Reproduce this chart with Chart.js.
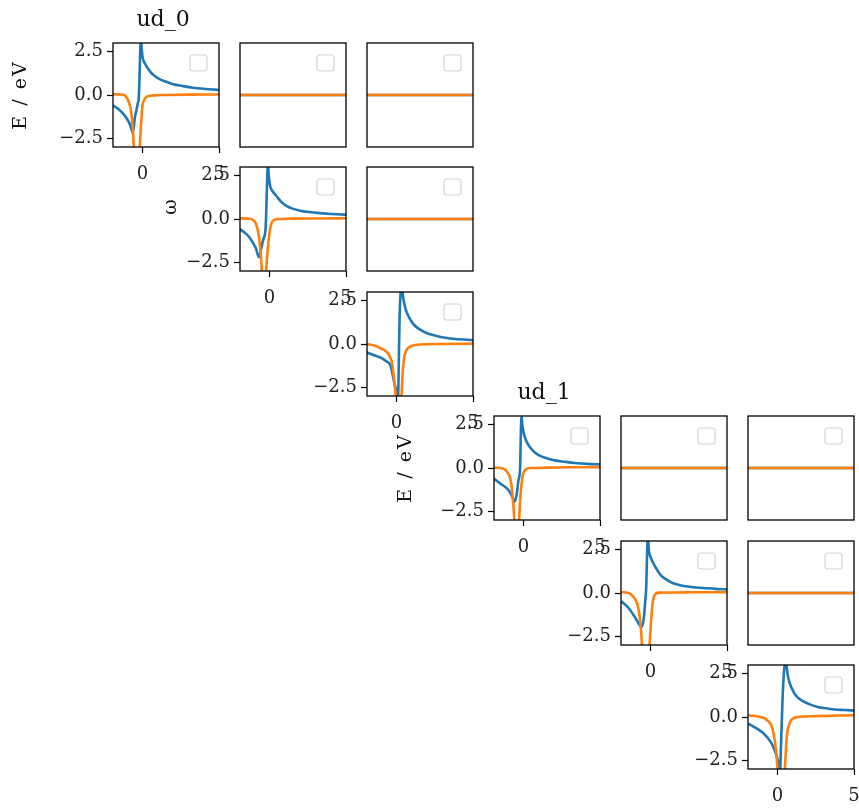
<!DOCTYPE html>
<html>
<head>
<meta charset="utf-8">
<script src="https://cdn.jsdelivr.net/npm/chart.js@4.4.1/dist/chart.umd.min.js"></script>
<style>
    html, body { margin: 0; padding: 0; background: #fff; }
    #fig { position: relative; width: 859px; height: 808px; overflow: hidden; }
    #fig canvas { position: absolute; }
</style>
</head>
<body>
<div id="fig"></div>
<script>
// ud_0, diagonal panels (row, col) = (0,0), (1,1), (2,2)
const ud0_00_blueX = [-1.93, -1.6, -1.3, -1.0, -0.8, -0.63, -0.5, -0.4, -0.3, -0.26, -0.2, -0.15, -0.11, -0.05, 0.0, 0.17, 0.5, 0.8, 1.15, 1.5, 2.0, 2.6, 3.3, 4.1, 5.0];
const ud0_00_blueY = [-0.6, -0.8, -1.05, -1.4, -1.75, -2.18, -1.3, -0.9, -0.45, -0.3, 0.9, 2.6, 3.2, 2.6, 2.2, 1.8, 1.35, 1.1, 0.9, 0.78, 0.62, 0.52, 0.42, 0.35, 0.29];
const ud0_00_orangeX = [-1.93, -1.5, -1.2, -1.0, -0.9, -0.78, -0.65, -0.57, -0.45, -0.3, -0.18, -0.1, 0.0, 0.1, 0.27, 0.5, 0.7, 1.5, 3.0, 5.0];
const ud0_00_orangeY = [0.04, 0.03, 0.0, -0.2, -0.4, -0.78, -1.74, -3.0, -5, -5, -3.0, -1.74, -0.6, -0.3, -0.1, -0.05, -0.02, 0.0, 0.02, 0.03];

const ud0_11_blueX = [-1.98, -1.6, -1.32, -1.1, -0.88, -0.7, -0.55, -0.4, -0.26, -0.2, -0.15, -0.11, -0.05, 0.04, 0.2, 0.44, 0.75, 1.1, 1.5, 2.0, 2.6, 3.3, 4.1, 5.0];
const ud0_11_blueY = [-0.57, -0.8, -1.05, -1.35, -1.72, -2.2, -1.72, -1.15, -0.57, 0.8, 2.5, 3.2, 2.5, 1.9, 1.6, 1.34, 1.0, 0.76, 0.6, 0.48, 0.4, 0.34, 0.29, 0.25];
const ud0_11_orangeX = [-1.98, -1.2, -1.0, -0.88, -0.7, -0.55, -0.5, -0.4, -0.3, -0.22, -0.11, 0.04, 0.15, 0.33, 0.6, 1.5, 3.0, 5.0];
const ud0_11_orangeY = [0.04, 0.0, -0.12, -0.29, -0.95, -2.3, -3.0, -5, -5, -3.0, -1.7, -0.57, -0.2, -0.04, 0.0, 0.02, 0.03, 0.04];

const ud0_22_blueX = [-1.96, -1.38, -1.0, -0.72, -0.39, -0.17, 0.04, 0.1, 0.15, 0.2, 0.27, 0.33, 0.45, 0.6, 0.81, 1.1, 1.46, 2.0, 2.55, 3.2, 3.86, 5.0];
const ud0_22_blueY = [-0.48, -0.68, -0.8, -0.97, -1.26, -2.13, -2.9, -3.2, -1.0, 1.5, 3.0, 3.3, 2.6, 2.0, 1.55, 1.15, 0.87, 0.62, 0.48, 0.36, 0.29, 0.23];
const ud0_22_orangeX = [-1.96, -1.38, -0.94, -0.8, -0.61, -0.45, -0.28, -0.11, -0.05, 0.1, 0.25, 0.33, 0.41, 0.5, 0.63, 0.8, 1.03, 1.5, 3.0, 5.0];
const ud0_22_orangeY = [0.0, -0.1, -0.29, -0.35, -0.48, -0.7, -1.16, -2.5, -3.0, -5, -5, -3.0, -1.55, -0.8, -0.39, -0.2, -0.1, -0.03, 0.0, 0.02];

// ud_1, diagonal panels (row, col) = (3,3), (4,4), (5,5)
const ud1_33_blueX = [-2.0, -1.51, -1.07, -0.85, -0.73, -0.58, -0.44, -0.33, -0.22, -0.18, -0.13, -0.08, 0.0, 0.16, 0.49, 0.8, 1.16, 1.6, 2.04, 2.7, 3.38, 4.2, 5.0];
const ud1_33_blueY = [-0.56, -0.9, -1.19, -1.45, -1.67, -1.96, -1.48, -0.71, 0.06, 1.79, 3.0, 2.5, 2.08, 1.6, 1.12, 0.85, 0.67, 0.54, 0.44, 0.36, 0.29, 0.24, 0.21];
const ud1_33_orangeX = [-2.0, -1.29, -1.07, -0.95, -0.84, -0.67, -0.6, -0.5, -0.38, -0.29, -0.22, -0.07, 0.16, 0.5, 1.5, 3.0, 5.0];
const ud1_33_orangeY = [0.02, -0.04, -0.23, -0.4, -0.71, -2.06, -3.0, -5, -5, -3.0, -1.87, -0.52, -0.08, 0.0, 0.02, 0.04, 0.05];

const ud1_44_blueX = [-1.92, -1.45, -1.03, -0.7, -0.56, -0.43, -0.34, -0.28, -0.21, -0.17, -0.1, 0.0, 0.26, 0.68, 1.0, 1.32, 1.7, 2.18, 2.8, 3.46, 4.2, 5.0];
const ud1_44_blueY = [-0.48, -0.85, -1.38, -1.87, -1.96, -1.38, -0.42, 0.35, 2.75, 3.2, 2.4, 2.08, 1.6, 1.02, 0.8, 0.63, 0.5, 0.4, 0.33, 0.29, 0.24, 0.21];
const ud1_44_orangeX = [-1.92, -1.35, -1.03, -0.81, -0.64, -0.56, -0.45, -0.2, -0.06, 0.04, 0.15, 0.26, 0.58, 1.5, 3.0, 5.0];
const ud1_44_orangeY = [0.06, -0.04, -0.33, -0.81, -1.96, -3.0, -5, -5, -3.0, -1.58, -0.5, -0.13, 0.02, 0.03, 0.04, 0.04];

const ud1_55_blueX = [-1.91, -1.32, -0.88, -0.44, -0.22, 0.0, 0.11, 0.16, 0.22, 0.33, 0.44, 0.55, 0.65, 0.77, 1.1, 1.4, 1.75, 2.2, 2.63, 3.2, 3.73, 4.4, 5.0];
const ud1_55_blueY = [-0.39, -0.68, -0.97, -1.45, -1.84, -2.42, -2.9, -3.2, -1.84, 1.07, 2.8, 3.2, 2.5, 2.03, 1.36, 1.07, 0.87, 0.7, 0.58, 0.5, 0.43, 0.4, 0.37];
const ud1_55_orangeX = [-1.91, -1.1, -0.66, -0.33, -0.11, 0.0, 0.1, 0.35, 0.48, 0.61, 0.75, 0.88, 1.32, 2.5, 5.0];
const ud1_55_orangeY = [0.1, 0.0, -0.19, -0.68, -1.84, -3.0, -5, -5, -3.0, -1.07, -0.45, -0.19, 0.0, 0.05, 0.1];

// off-diagonal panels: both lines flat at zero
const flatX = [-1.93, 5.0];
const flatY = [0, 0];

const xTicks = [0, 5];
const yTicks = [-2.5, 0, 2.5];
const xMin = -1.93, xMax = 5, yMin = -3, yMax = 3;

const BLUE = "#1f77b4";
const ORANGE = "#ff7f0e";
const FONT = "DejaVu Serif";

// canvas margins around each plot box
const ML = 105, MT = 40, MR = 25, MB = 40, PW = 106, PH = 104;

function pts(xs, ys) {
    return xs.map((x, i) => ({ x: x, y: ys[i] }));
}

const framePlugin = {
    id: "frame",
    afterDraw(chart, args, opts) {
        const ctx = chart.ctx;
        const a = chart.chartArea;
        ctx.save();
        // empty legend box
        ctx.fillStyle = "rgba(255,255,255,0.8)";
        ctx.strokeStyle = "#d4d4d4";
        ctx.lineWidth = 1.2;
        ctx.beginPath();
        ctx.roundRect(a.right - 29, a.top + 12, 17, 16, 3);
        ctx.fill();
        ctx.stroke();
        // axes frame
        ctx.strokeStyle = "#000";
        ctx.lineWidth = 1.3;
        ctx.strokeRect(a.left, a.top, a.right - a.left, a.bottom - a.top);
        ctx.fillStyle = "#111";
        if (opts.title) {
            ctx.font = "22px '" + FONT + "'";
            ctx.textAlign = "center";
            ctx.textBaseline = "alphabetic";
            ctx.fillText(opts.title, (a.left + a.right) / 2 - 3, a.top - 17);
        }
        if (opts.ylabel) {
            ctx.translate(a.left - opts.yoff, (a.top + a.bottom) / 2 + (opts.ydy || 0));
            ctx.rotate(-Math.PI / 2);
            ctx.font = "19px '" + FONT + "'";
            ctx.letterSpacing = opts.spacing || "0px";
            ctx.textAlign = "center";
            ctx.textBaseline = "middle";
            ctx.fillText(opts.ylabel, 0, 0);
        }
        ctx.restore();
    }
};

const fig = document.getElementById("fig");

function addPanel(r, c, blue, orange, diag, extra) {
    const left = Math.round(113 + 127 * c);
    const top = Math.round(43 + 124.4 * r);
    const cv = document.createElement("canvas");
    cv.width = ML + PW + MR;
    cv.height = MT + PH + MB;
    cv.style.left = (left - ML) + "px";
    cv.style.top = (top - MT) + "px";
    fig.appendChild(cv);

    const tickGrid = {
        display: diag,
        drawOnChartArea: false,
        drawTicks: true,
        tickLength: 6,
        tickColor: "#000",
        tickWidth: 1.2,
    };

    new Chart(cv, {
        type: "line",
        data: {
            datasets: [
                {
                    data: blue,
                    borderColor: BLUE,
                    borderWidth: 2.6,
                    pointRadius: 0,
                    cubicInterpolationMode: "monotone",
                    clip: 0,
                    order: 1,
                },
                {
                    data: orange,
                    borderColor: ORANGE,
                    borderWidth: 2.6,
                    pointRadius: 0,
                    cubicInterpolationMode: "monotone",
                    clip: 0,
                    order: 0,
                },
            ],
        },
        options: {
            responsive: false,
            animation: false,
            layout: { padding: { left: 0, top: MT, right: MR, bottom: 0 } },
            plugins: {
                legend: { display: false },
                tooltip: { enabled: false },
                frame: extra || {},
            },
            scales: {
                x: {
                    type: "linear",
                    min: xMin,
                    max: xMax,
                    afterFit(s) { s.height = MB; },
                    afterBuildTicks(s) { s.ticks = xTicks.map(v => ({ value: v })); },
                    grid: tickGrid,
                    border: { display: false },
                    ticks: {
                        display: diag,
                        padding: 11,
                        color: "#222",
                        maxRotation: 0,
                        font: { family: FONT, size: 18 },
                        callback: v => String(v),
                    },
                },
                y: {
                    type: "linear",
                    min: yMin,
                    max: yMax,
                    afterFit(s) { s.width = ML; },
                    afterBuildTicks(s) { s.ticks = yTicks.map(v => ({ value: v })); },
                    grid: tickGrid,
                    border: { display: false },
                    ticks: {
                        display: diag,
                        padding: 4,
                        color: "#222",
                        font: { family: FONT, size: 18 },
                        callback: v => (v < 0 ? "\u2212" : "") + Math.abs(v).toFixed(1),
                    },
                },
            },
        },
        plugins: [framePlugin],
    });
}

const flatBlue = pts(flatX, flatY);
const flatOrange = pts(flatX, flatY);

// ud_0 block
addPanel(0, 0, pts(ud0_00_blueX, ud0_00_blueY), pts(ud0_00_orangeX, ud0_00_orangeY), true,
    { title: "ud_0", ylabel: "E / eV", yoff: 92, spacing: "2px" });
addPanel(0, 1, flatBlue, flatOrange, false);
addPanel(0, 2, flatBlue, flatOrange, false);
addPanel(1, 1, pts(ud0_11_blueX, ud0_11_blueY), pts(ud0_11_orangeX, ud0_11_orangeY), true,
    { ylabel: "\u03c9", yoff: 69, ydy: -12 });
addPanel(1, 2, flatBlue, flatOrange, false);
addPanel(2, 2, pts(ud0_22_blueX, ud0_22_blueY), pts(ud0_22_orangeX, ud0_22_orangeY), true);

// ud_1 block
addPanel(3, 3, pts(ud1_33_blueX, ud1_33_blueY), pts(ud1_33_orangeX, ud1_33_orangeY), true,
    { title: "ud_1", ylabel: "E / eV", yoff: 88, spacing: "2px" });
addPanel(3, 4, flatBlue, flatOrange, false);
addPanel(3, 5, flatBlue, flatOrange, false);
addPanel(4, 4, pts(ud1_44_blueX, ud1_44_blueY), pts(ud1_44_orangeX, ud1_44_orangeY), true);
addPanel(4, 5, flatBlue, flatOrange, false);
addPanel(5, 5, pts(ud1_55_blueX, ud1_55_blueY), pts(ud1_55_orangeX, ud1_55_orangeY), true);
</script>
</body>
</html>
